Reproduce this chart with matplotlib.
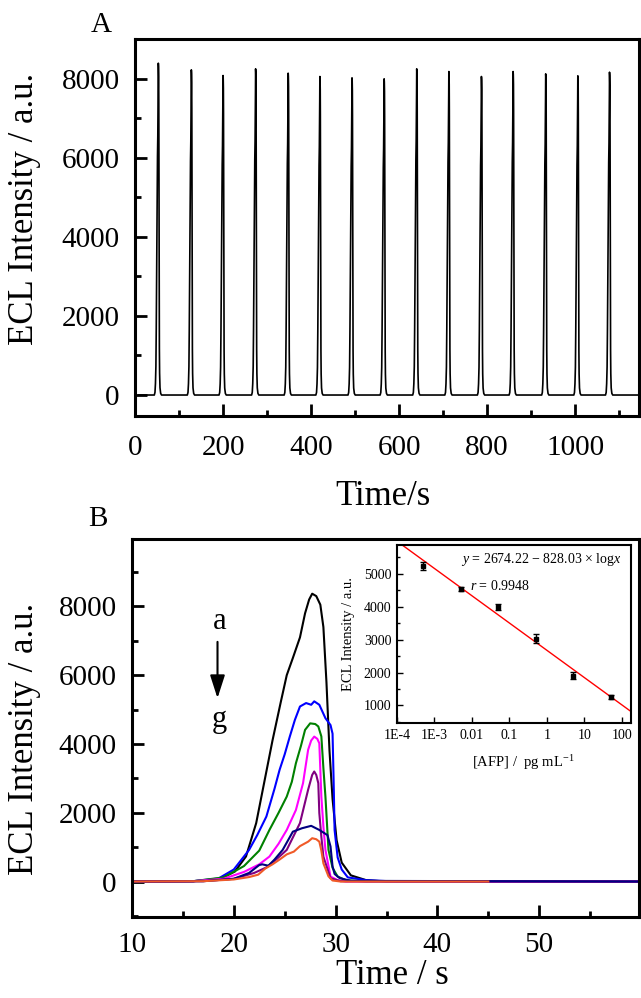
import numpy as np
import matplotlib
matplotlib.use("Agg")
import matplotlib.pyplot as plt
import matplotlib.ticker as mticker

plt.rcParams['font.family'] = ['Liberation Serif', 'DejaVu Serif']
plt.rcParams['mathtext.fontset'] = 'custom'
plt.rcParams['mathtext.rm'] = 'Liberation Serif'
plt.rcParams['mathtext.it'] = 'Liberation Serif:italic'

# ---- panel A: repeated ECL scans ----
peak_times = [53, 128, 200, 274, 348, 420, 493, 566, 640, 713, 787, 859, 933, 1006, 1078]
peak_heights = [8396, 8227, 8084, 8253, 8143, 8059, 8025, 8000, 8253, 8185, 8059, 8185, 8126, 8076, 8168]
profile_dt = [-9.1, -7.6, -6.5, -5.5, -4.7, -3.9, -3.1, -2.5, -1.9, -1.2, -0.7, -0.3, 0.0, 0.4, 0.8, 1.1, 1.4, 1.7, 2.0, 2.4, 2.9, 3.8, 5.3, 7.3]
profile_frac = [0.0, 0.008, 0.035, 0.087, 0.20, 0.35, 0.49, 0.62, 0.72, 0.78, 0.85, 0.93, 1.0, 0.99, 0.96, 0.88, 0.69, 0.45, 0.29, 0.14, 0.066, 0.022, 0.005, 0.0]
time_a_start, time_a_end = 8, 1145

# ---- panel B: ECL curves a-g ----
t_a = [10, 16, 18.6, 20.1, 21.2, 22.2, 23.0, 23.8, 24.6, 25.2, 25.8, 26.5, 27.0, 27.4, 27.7, 28.1, 28.5, 28.8, 29.1, 29.4, 29.7, 30.1, 30.6, 31.5, 33, 35, 60]
i_a = [0, 10, 70, 290, 730, 1700, 2900, 4100, 5200, 6000, 6500, 7100, 7800, 8200, 8370, 8300, 8050, 7400, 5800, 3800, 2400, 1200, 550, 180, 40, 0, 0]

t_b = [10, 16, 18.5, 20.0, 21.5, 22.3, 23.2, 24.0, 24.5, 25.0, 25.5, 26.0, 26.5, 27.1, 27.6, 27.9, 28.4, 29.0, 29.5, 29.7, 29.8, 29.9, 30.2, 30.6, 31.2, 33, 36, 60]
i_b = [0, 10, 90, 350, 920, 1350, 1890, 2700, 3250, 3700, 4215, 4700, 5090, 5190, 5140, 5240, 5140, 4750, 4550, 4300, 3000, 1500, 700, 350, 120, 40, 0, 0]

t_c = [10, 16, 19, 21, 22.5, 23.5, 24.4, 25.2, 25.7, 26.1, 26.6, 27.0, 27.5, 28.0, 28.3, 28.6, 28.8, 29.0, 29.3, 29.7, 30.2, 31, 33, 60]
i_c = [0, 10, 120, 450, 900, 1500, 2000, 2470, 2900, 3440, 3950, 4410, 4600, 4580, 4510, 4220, 3300, 2470, 920, 400, 145, 40, 0, 0]

t_d = [10, 16, 19, 21, 22.5, 23.5, 24.4, 25.2, 26.1, 26.8, 27.3, 27.6, 27.9, 28.2, 28.4, 28.6, 28.8, 29.0, 29.5, 30.2, 31, 60]
i_d = [0, 10, 80, 280, 500, 727, 1100, 1500, 2080, 2860, 3830, 4100, 4215, 4150, 4020, 2470, 1600, 920, 145, 40, 0, 0]

t_e = [10, 17, 20, 22, 23.2, 24.2, 25.2, 26.5, 27.3, 27.7, 27.9, 28.1, 28.3, 28.4, 28.6, 28.8, 29.5, 30.5, 60]
i_e = [0, 10, 80, 250, 410, 650, 920, 1700, 2670, 3100, 3200, 3100, 2860, 1990, 1300, 727, 95, 10, 0]

t_f = [10, 17, 20, 21.5, 22.5, 22.8, 23.4, 24.0, 24.8, 25.8, 26.7, 27.6, 28.4, 29.2, 29.5, 29.7, 29.9, 30.4, 31.5, 60]
i_f = [0, 10, 80, 250, 480, 500, 460, 640, 920, 1450, 1550, 1620, 1500, 1350, 1020, 440, 220, 100, 20, 0]

t_g = [10, 17, 20, 21.5, 22.4, 23.1, 23.8, 24.5, 25.2, 25.9, 26.5, 27.3, 27.7, 28.1, 28.4, 28.6, 28.8, 29.3, 29.7, 30.5, 45]
i_g = [0, 10, 60, 130, 200, 380, 500, 640, 790, 870, 1030, 1160, 1260, 1230, 1160, 900, 530, 150, 30, 0, 0]

curves_b = [(t_a, i_a), (t_b, i_b), (t_c, i_c), (t_d, i_d), (t_e, i_e), (t_f, i_f), (t_g, i_g)]
colors_b = ['black', '#0000FF', '#008000', '#FF00FF', '#800080', '#000080', '#F05A28']

# ---- inset: calibration ----
afp_conc = [5e-4, 5e-3, 5e-2, 0.5, 5, 50]
afp_ecl = [5230, 4530, 3990, 3030, 1910, 1250]
afp_err = [110, 70, 80, 130, 120, 60]
fit_a, fit_b = 2674.22, -828.03
inset_xticks = [1e-4, 1e-3, 1e-2, 0.1, 1, 10, 100]
inset_xticklabels = ['1E-4', '1E-3', '0.01', '0.1', '1', '10', '100']

label_size = 25


def style_axis(ax, major_len=8.5, minor_len=4.5, width=2.0, labelsize=21, pad=11):
    for sp in ax.spines.values():
        sp.set_linewidth(2.2)
    ax.tick_params(which='both', direction='in', top=False, right=False, width=width)
    ax.tick_params(which='major', length=major_len, labelsize=labelsize, pad=pad)
    ax.tick_params(which='minor', length=minor_len)


fig = plt.figure(figsize=(6.41, 9.98), dpi=100)

# panel A
axA = fig.add_axes([0.2106, 0.5832, 0.7863, 0.3778])
tA = [time_a_start]
yA = [0]
for tp, hp in zip(peak_times, peak_heights):
    for dt, fr in zip(profile_dt, profile_frac):
        tA.append(tp + dt)
        yA.append(hp * fr)
tA.append(time_a_end)
yA.append(0)
axA.plot(tA, yA, color='black', lw=1.2)
axA.set_xlim(0, 1145)
axA.set_ylim(-530, 9010)
axA.xaxis.set_major_locator(mticker.MultipleLocator(200))
axA.xaxis.set_minor_locator(mticker.MultipleLocator(100))
axA.yaxis.set_major_locator(mticker.MultipleLocator(2000))
axA.yaxis.set_minor_locator(mticker.MultipleLocator(1000))
style_axis(axA)
axA.tick_params(axis='x', which='major', pad=14)
axA.set_ylabel('ECL Intensity / a.u.', fontsize=label_size)
axA.yaxis.set_label_coords(-0.186, 0.55)
axA.set_xlabel('Time/s', fontsize=label_size)
axA.xaxis.set_label_coords(0.492, -0.17)
fig.text(101 / 641, 1 - 25 / 998, 'A', fontsize=21, ha='center', va='center')

# panel B
axB = fig.add_axes([0.2059, 0.0812, 0.791, 0.3787])
for (tt, ii), c in zip(curves_b, colors_b):
    axB.plot(tt, ii, color=c, lw=1.5)
axB.set_xlim(10, 59.8)
axB.set_ylim(-1030, 9960)
axB.xaxis.set_major_locator(mticker.MultipleLocator(10))
axB.xaxis.set_minor_locator(mticker.MultipleLocator(5))
axB.yaxis.set_major_locator(mticker.MultipleLocator(2000))
axB.yaxis.set_minor_locator(mticker.MultipleLocator(1000))
style_axis(axB)
axB.set_ylabel('ECL Intensity / a.u.', fontsize=label_size)
axB.yaxis.set_label_coords(-0.18, 0.47)
axB.set_xlabel('Time / s', fontsize=label_size)
axB.xaxis.set_label_coords(0.513, -0.112)
fig.text(98 / 641, 1 - 519 / 998, 'B', fontsize=21, ha='center', va='center')

axB.text(18.6, 7560, 'a', fontsize=22, ha='center', va='center')
axB.text(18.6, 4700, 'g', fontsize=22, ha='center', va='center')
axB.annotate('', xy=(18.4, 5250), xytext=(18.4, 7050),
             arrowprops=dict(arrowstyle='-|>,head_length=1.4,head_width=0.45', color='black', lw=1.5))

# inset
axI = fig.add_axes([0.6193, 0.2756, 0.3651, 0.1786])
axI.set_xscale('log')
xfit = np.array([1e-4, 175])
axI.plot(xfit, fit_a + fit_b * np.log10(xfit), color='red', lw=1.0)
axI.errorbar(afp_conc, afp_ecl, yerr=afp_err, fmt='s', color='black', ms=3.5,
             capsize=2, elinewidth=1, capthick=1)
axI.set_xlim(1e-4, 175)
axI.set_ylim(470, 5880)
axI.set_xticks(inset_xticks)
axI.set_xticklabels(inset_xticklabels)
axI.xaxis.set_minor_locator(mticker.LogLocator(base=10, subs=np.arange(2, 10)))
axI.xaxis.set_minor_formatter(mticker.NullFormatter())
axI.yaxis.set_major_locator(mticker.MultipleLocator(1000))
axI.yaxis.set_minor_locator(mticker.MultipleLocator(500))
for sp in axI.spines.values():
    sp.set_linewidth(1.5)
axI.tick_params(which='both', direction='in', top=False, right=False, width=1.0)
axI.tick_params(which='major', length=4, labelsize=10, pad=4)
axI.tick_params(which='minor', length=2.2)
axI.set_ylabel('ECL Intensity / a.u.', fontsize=10.5)
axI.yaxis.set_label_coords(-0.18, 0.5)
axI.set_xlabel('[AFP] /  pg mL$^{-1}$', fontsize=10.5)
axI.xaxis.set_label_coords(0.54, -0.17)
axI.text(0.96, 0.915, r'$y$ = 2674.22 − 828.03 × log$x$', transform=axI.transAxes,
         fontsize=10, ha='right', va='center')
axI.text(0.31, 0.77, r'$r$ = 0.9948', transform=axI.transAxes,
         fontsize=10, ha='left', va='center')

fig.savefig('out.png', dpi=100)
